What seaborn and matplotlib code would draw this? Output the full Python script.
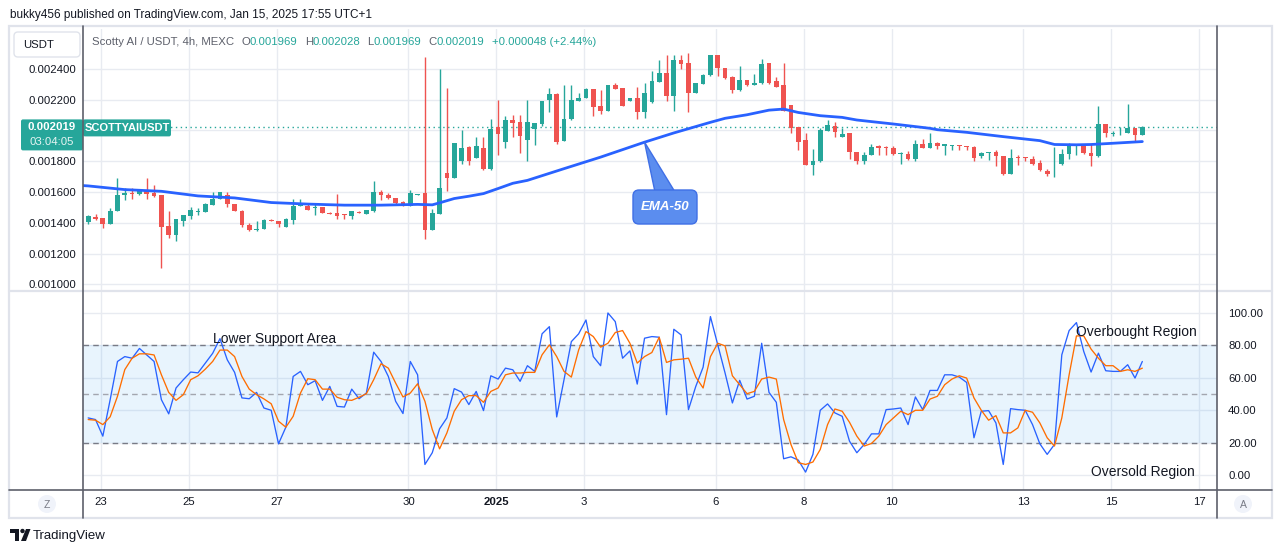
import numpy as np
import pandas as pd
import matplotlib
matplotlib.use("Agg")
import matplotlib.pyplot as plt
from matplotlib.patches import FancyBboxPatch, Rectangle, Circle, Polygon
from matplotlib.ticker import FormatStrFormatter, FuncFormatter
import seaborn as sns

# 4h candles, first one at 2024-12-22 17:00 (UTC+1); prices in 1e-6 USDT
start = pd.Timestamp("2024-12-22 17:00")

opens = [1407, 1439, 1428, 1392, 1476, 1579, 1596, 1585, 1607, 1596,
         1577, 1377, 1321, 1411, 1443, 1467, 1469, 1514, 1553, 1579,
         1519, 1478, 1383, 1351, 1359, 1418, 1411, 1372, 1418, 1510,
         1510, 1493, 1499, 1463, 1460, 1454, 1443, 1469, 1456, 1473,
         1600, 1579, 1561, 1536, 1508, 1579, 1596, 1353, 1456, 1725,
         1693, 1798, 1893, 1822, 1886, 1746, 2019, 1927, 2067, 2054,
         1940, 2009, 2043, 2198, 2234, 1933, 2073, 2191, 2211, 2267,
         2157, 2127, 2293, 2273, 2191, 2209, 2120, 2185, 2314, 2374,
         2224, 2454, 2434, 2243, 2301, 2357, 2490, 2402, 2344, 2262,
         2325, 2295, 2305, 2434, 2318, 2293, 2164, 2019, 1938, 1777,
         1798, 1998, 2028, 1959, 1983, 1860, 1798, 1841, 1897, 1893,
         1886, 1848, 1848, 1815, 1912, 1888, 1918, 1901, 1899, 1903,
         1897, 1893, 1830, 1854, 1858, 1834, 1718, 1826, 1826, 1815,
         1789, 1738, 1733, 1783, 1847, 1895, 1895, 1854, 1830, 2041,
         1979, 1987, 1985, 2015, 1969]
highs = [1450, 1454, 1430, 1493, 1693, 1628, 1626, 1622, 1693, 1643,
         1579, 1473, 1424, 1450, 1503, 1493, 1525, 1600, 1602, 1600,
         1521, 1480, 1396, 1413, 1426, 1422, 1413, 1428, 1557, 1557,
         1529, 1525, 1501, 1471, 1585, 1456, 1475, 1476, 1482, 1673,
         1615, 1596, 1563, 1538, 1615, 1585, 2473, 1486, 2396, 2273,
         1920, 2002, 1895, 1957, 1957, 2073, 2196, 2093, 2099, 2097,
         2196, 2050, 2191, 2273, 2243, 2293, 2293, 2241, 2273, 2269,
         2265, 2295, 2308, 2275, 2211, 2280, 2310, 2383, 2456, 2490,
         2490, 2490, 2499, 2308, 2368, 2492, 2492, 2404, 2353, 2417,
         2327, 2363, 2460, 2439, 2344, 2434, 2166, 2021, 1983, 1880,
         2013, 2067, 2052, 2017, 1985, 1862, 1858, 1912, 1905, 1897,
         1897, 1856, 1867, 1938, 1944, 1983, 1923, 1912, 1905, 1905,
         1899, 1897, 1858, 1860, 1873, 1836, 1880, 1837, 1828, 1832,
         1809, 1751, 1893, 1880, 1916, 1905, 1905, 1908, 2157, 2043,
         1994, 2022, 2170, 2017, 2028]
lows = [1392, 1418, 1364, 1390, 1474, 1546, 1557, 1583, 1553, 1568,
        1106, 1299, 1282, 1379, 1424, 1450, 1467, 1512, 1551, 1499,
        1474, 1375, 1346, 1346, 1357, 1409, 1372, 1370, 1392, 1506,
        1480, 1450, 1461, 1454, 1424, 1424, 1424, 1461, 1454, 1471,
        1546, 1557, 1514, 1506, 1506, 1577, 1295, 1351, 1454, 1604,
        1691, 1783, 1777, 1820, 1744, 1740, 1841, 1882, 1959, 1852,
        1804, 1905, 2030, 2120, 1910, 1931, 2069, 2189, 2209, 2095,
        2103, 2125, 2267, 2157, 2189, 2073, 2082, 2176, 2312, 2189,
        2127, 2396, 2120, 2241, 2299, 2355, 2353, 2336, 2241, 2254,
        2286, 2293, 2299, 2303, 2280, 2125, 1983, 1875, 1775, 1708,
        1796, 1996, 1957, 1957, 1811, 1779, 1779, 1837, 1841, 1837,
        1837, 1779, 1809, 1804, 1886, 1886, 1880, 1841, 1873, 1873,
        1875, 1798, 1822, 1809, 1766, 1708, 1716, 1772, 1798, 1777,
        1738, 1701, 1695, 1777, 1811, 1841, 1848, 1766, 1824, 1959,
        1966, 1972, 1983, 1931, 1969]
closes = [1443, 1422, 1392, 1478, 1583, 1596, 1585, 1611, 1589, 1572,
          1370, 1321, 1422, 1448, 1480, 1473, 1519, 1557, 1600, 1521,
          1476, 1385, 1353, 1357, 1415, 1411, 1394, 1422, 1506, 1525,
          1482, 1499, 1463, 1456, 1443, 1450, 1473, 1463, 1480, 1600,
          1579, 1559, 1525, 1508, 1596, 1583, 1353, 1460, 1628, 1693,
          1918, 1886, 1798, 1897, 1746, 2009, 1979, 2067, 2048, 1966,
          2054, 2048, 2189, 2234, 1927, 2073, 2196, 2213, 2267, 2153,
          2125, 2293, 2271, 2159, 2209, 2120, 2241, 2318, 2374, 2224,
          2454, 2430, 2243, 2305, 2359, 2490, 2404, 2338, 2262, 2325,
          2293, 2305, 2428, 2305, 2282, 2127, 2013, 1927, 1777, 1800,
          2002, 2034, 1992, 1974, 1856, 1804, 1841, 1893, 1886, 1888,
          1843, 1854, 1811, 1912, 1888, 1918, 1895, 1908, 1903, 1897,
          1893, 1817, 1852, 1858, 1830, 1718, 1822, 1820, 1820, 1779,
          1740, 1718, 1738, 1847, 1895, 1903, 1854, 1830, 2041, 1985,
          1983, 1992, 2015, 1972, 2019]

# EMA-50 (candle index, price 1e-6)
ema_idx = [-1, 0, 5, 10, 15, 20, 25, 28, 30, 35,
           40, 45, 47, 48, 50, 52, 54, 56, 58, 60,
           65, 70, 76, 80, 85, 87, 90, 93, 95, 97,
           100, 103, 105, 110, 115, 116, 120, 125, 130, 132,
           135, 137, 140, 144]
ema_val = [1642, 1639, 1615, 1604, 1574, 1561, 1531, 1525, 1521, 1514,
           1514, 1519, 1516, 1529, 1557, 1572, 1589, 1622, 1656, 1675,
           1751, 1826, 1923, 1983, 2052, 2078, 2101, 2131, 2138, 2116,
           2095, 2084, 2067, 2041, 2013, 2004, 1987, 1959, 1933, 1908,
           1906, 1908, 1916, 1927]

# stochastic %K (blue) and %D (orange), one value per candle
stoch_k = [35.3, 34.3, 24.1, 46.5, 70, 73, 72, 78, 74, 70,
           46.5, 37.8, 53.7, 58.8, 63.5, 63, 69, 75, 84, 71,
           63.3, 47.6, 47.1, 51, 41.4, 40, 19.4, 29.6, 60.8, 63.9,
           55.7, 58.2, 46.1, 54.7, 42.4, 42, 53, 47.1, 50.6, 75.7,
           70, 60.8, 45.5, 38, 70, 61.8, 6.7, 13.9, 28.6, 35.3,
           53.3, 51.2, 43.5, 51.6, 39.8, 61.2, 59.2, 65.9, 64.9, 57.8,
           67.4, 63.9, 87, 91.4, 35.9, 58.8, 82.2, 87, 95.5, 73,
           67.4, 99.8, 94.5, 72, 76.5, 56.1, 84.3, 85.3, 84.9, 37.3,
           89.8, 86.3, 40.4, 54.7, 66.5, 97.6, 80.2, 62.9, 44.5, 58.4,
           46.9, 48.6, 81.2, 51, 44.9, 10.2, 11.4, 9.4, 2, 12.9,
           40, 43.9, 38.4, 36.3, 21, 13.9, 19, 25.5, 25.5, 40.4,
           40.8, 41.4, 31.2, 48.2, 40.4, 52.2, 52.2, 61.8, 61.8, 60.4,
           57.1, 23.1, 39.4, 39.8, 32.2, 6.7, 41, 40.4, 40, 31.2,
           19.4, 12.9, 19, 74.1, 89, 93.9, 76.1, 63.5, 75.1, 64.3,
           63.9, 63.9, 68, 59.8, 70]
stoch_d = [34.3, 33.9, 31.2, 36, 48.6, 65, 72, 74.7, 74.7, 74,
           61.8, 51, 46.1, 49.6, 58.8, 61.2, 65.3, 70, 77, 77,
           73, 60.8, 53, 49.6, 47, 44, 33.3, 29.6, 36.3, 50.6,
           59.4, 58.8, 53, 53, 48, 46.5, 46.1, 48, 50.2, 58.8,
           68.6, 65.9, 56.7, 48.2, 50.6, 56.3, 45.5, 28.2, 16.3, 26.1,
           39.4, 46.5, 49, 49, 44.9, 51.6, 53.7, 61.8, 62.9, 62.9,
           63.3, 63.3, 74.1, 80.2, 73, 63.9, 60.4, 77.1, 88.4, 85.3,
           78.8, 81.2, 87.8, 89, 81.2, 69, 73, 75.5, 84.9, 69.4,
           71, 71.4, 72, 60.4, 53.7, 73, 81.2, 79.6, 61.2, 55.7,
           50.2, 51.6, 59.2, 60.4, 59.2, 34.3, 19, 7.8, 6.7, 8.2,
           15.9, 31.2, 40.8, 39.4, 32.6, 24.1, 18, 19.6, 24.1, 31.2,
           35.3, 39.4, 37.3, 40, 40, 46.9, 48.6, 55.7, 59.2, 61.2,
           59.8, 47.6, 40, 33.9, 36.7, 26.1, 26.1, 29.2, 40, 38.8,
           32.2, 23.1, 18, 35.3, 61.8, 85.7, 85.7, 77.6, 72, 67.4,
           67.4, 63.9, 64.9, 63.9, 65.9]

tick_days = ["2024-12-23", "2024-12-25", "2024-12-27", "2024-12-30", "2025-01-01", "2025-01-03",
             "2025-01-06", "2025-01-08", "2025-01-10", "2025-01-13", "2025-01-15", "2025-01-17"]
tick_labels = ["23", "25", "27", "30", "2025", "3", "6", "8", "10", "13", "15", "17"]
price_ticks = [0.0010, 0.0012, 0.0014, 0.0016, 0.0018, 0.0020, 0.0022, 0.0024]
osc_ticks = [0, 20, 40, 60, 80, 100]

GREEN = "#26a69a"
RED = "#ef5350"
GRID = "#e8ebf1"
DARK = "#5d606b"
TXT = "#131722"

sns.set_theme(style="white")
plt.rcParams["font.family"] = ["Liberation Sans", "DejaVu Sans"]

W, H = 1281, 553
fig = plt.figure(figsize=(W / 100, H / 100), dpi=100)


def box(x0, y0, x1, y1):
    return [x0 / W, 1 - y1 / H, (x1 - x0) / W, (y1 - y0) / H]


o = np.array(opens) / 1e6
h = np.array(highs) / 1e6
l = np.array(lows) / 1e6
c = np.array(closes) / 1e6
idx = np.arange(len(o))
tick_pos = np.asarray((pd.to_datetime(tick_days) - start) / pd.Timedelta(hours=4))
xlim = (-0.71, 154.2)


def price_fmt(v, pos):
    # the 0.002000 label sits under the last-price tag
    if abs(v - round(c[-1], 4)) < 1e-9:
        return ""
    return f"{v:.6f}"


# ---- price panel ----
ax1 = fig.add_axes(box(83, 29, 1217, 290))
ax1.set_xlim(*xlim)
ax1.set_ylim(0.000963, 0.002658)
ax1.set_xticks(tick_pos)
ax1.set_yticks(price_ticks)
ax1.grid(True, color=GRID, lw=1)
ax1.tick_params(axis="x", length=0, labelbottom=False)
ax1.tick_params(axis="y", length=0, pad=5, labelsize=8.2, labelcolor=TXT)
ax1.yaxis.set_major_formatter(FuncFormatter(price_fmt))
for s in ax1.spines.values():
    s.set_visible(False)

up = c >= o
colors = np.where(up, GREEN, RED)
ax1.vlines(idx, l, h, colors=colors, lw=1, zorder=3)
ax1.bar(idx, np.maximum(np.abs(c - o), 5e-6), bottom=np.minimum(o, c),
        width=0.64, color=colors, lw=0, zorder=4)
ax1.axhline(c[-1], color=GREEN, lw=1, ls=(0, (1, 2.5)), zorder=2)
sns.lineplot(x=ema_idx, y=np.array(ema_val) / 1e6, ax=ax1, color="#2962ff", lw=2.0, zorder=5)
ax1.set_xlabel("")
ax1.set_ylabel("")

# ---- stochastic panel ----
ax2 = fig.add_axes(box(83, 292, 1217, 490))
ax2.set_xlim(*xlim)
ax2.set_ylim(-9, 112.7)
ax2.set_xticks(tick_pos, tick_labels)
ax2.set_yticks(osc_ticks)
ax2.grid(True, color=GRID, lw=1)
ax2.yaxis.tick_right()
ax2.yaxis.set_major_formatter(FormatStrFormatter("%.2f"))
ax2.tick_params(axis="x", length=0, pad=5, labelsize=8.2, labelcolor=TXT)
ax2.tick_params(axis="y", length=0, pad=8, labelsize=8.2, labelcolor=TXT)
for s in ax2.spines.values():
    s.set_visible(False)
ax2.get_xticklabels()[tick_labels.index("2025")].set_fontweight("bold")

ax2.axhspan(20, 80, color="#2196f3", alpha=0.1, lw=0)
for lvl in (80, 20):
    ax2.axhline(lvl, color="#787b86", lw=1, ls=(0, (4, 3)))
ax2.axhline(50, color="#a3a6af", lw=1, ls=(0, (4, 3)))
sns.lineplot(x=idx, y=stoch_k, ax=ax2, color="#2962ff", lw=0.95)
sns.lineplot(x=idx, y=stoch_d, ax=ax2, color="#ff6d00", lw=0.95)
ax2.set_xlabel("")
ax2.set_ylabel("")

ax2.text(17.0, 83.6, "Lower Support Area", fontsize=10, color=TXT, va="center")
ax2.text(134.9, 87.9, "Overbought Region", fontsize=10, color=TXT, va="center")
ax2.text(137.0, 2.1, "Oversold Region", fontsize=10, color=TXT, va="center")

# ---- overlay: frame, labels, tags ----
ov = fig.add_axes([0, 0, 1, 1], zorder=10)
ov.set_xlim(0, W)
ov.set_ylim(H, 0)
ov.axis("off")

ov.add_patch(Rectangle((9, 26), 1263, 492, fill=False, ec="#e0e3eb", lw=1.6))
ov.plot([9, 1272], [291, 291], color="#e0e3eb", lw=1.6)
ov.plot([9, 1272], [490, 490], color=DARK, lw=1.2)
ov.plot([83, 83], [26, 518], color=DARK, lw=1.2)
ov.plot([1217, 1217], [26, 518], color=DARK, lw=1.2)

fig.canvas.draw()
renderer = fig.canvas.get_renderer()

ov.text(10, 15, "bukky456 published on TradingView.com, Jan 15, 2025 17:55 UTC+1",
        fontsize=8.5, color=TXT, va="center")

ov.add_patch(FancyBboxPatch((14, 32), 66, 25, boxstyle="round,pad=0,rounding_size=4",
                            fc="white", ec="#e0e3eb", lw=1))
ov.text(23, 45, "USDT", fontsize=8.2, color=TXT, va="center")

gray = "#5d606b"
runs = [("Scotty AI / USDT, 4h, MEXC", gray, 7), ("O", gray, 0), ("0.001969", GREEN, 7),
        ("H", gray, 0), ("0.002028", GREEN, 7), ("L", gray, 0), ("0.001969", GREEN, 7),
        ("C", gray, 0), ("0.002019", GREEN, 7), ("+0.000048 (+2.44%)", GREEN, 0)]
x = 92
for s, col, gap in runs:
    t = ov.text(x, 42, s, fontsize=8.2, color=col, va="center")
    x += t.get_window_extent(renderer).width + gap

# last price tag
y_px = H - ax1.transData.transform((0, c[-1]))[1]
ov.add_patch(FancyBboxPatch((21, y_px - 8), 62, 31, boxstyle="round,pad=0,rounding_size=2",
                            fc=GREEN, ec="none"))
ov.text(52, y_px, f"{c[-1]:.6f}", fontsize=8.2, color="white", weight="bold", ha="center", va="center")
ov.text(52, y_px + 15, "03:04:05", fontsize=8.2, color="#e6f5f3", ha="center", va="center")
ov.add_patch(FancyBboxPatch((83, y_px - 8), 88, 17, boxstyle="round,pad=0,rounding_size=2",
                            fc=GREEN, ec="none"))
ov.text(127, y_px + 0.5, "SCOTTYAIUSDT", fontsize=8, color="white", weight="bold", ha="center", va="center")

# EMA-50 callout
ax_pt = ax1.transData.transform((76, ema_val[ema_idx.index(76)] / 1e6))
apex = (ax_pt[0], H - ax_pt[1])
ov.add_patch(Polygon([apex, (655, 192), (675, 192)], closed=True, fc="#5b8def", ec="#3f6fe6", lw=1))
ov.add_patch(FancyBboxPatch((633, 190), 64, 34, boxstyle="round,pad=0,rounding_size=6",
                            fc="#5b8def", ec="#3f6fe6", lw=1))
ov.text(665, 207.5, "EMA-50", fontsize=9.5, color="white", style="italic", weight="bold",
        ha="center", va="center")

# time axis buttons
for cx, letter in ((47, "Z"), (1243, "A")):
    ov.add_patch(Circle((cx, 504), 9, fc="#f0f3fa", ec="none"))
    ov.text(cx, 504.5, letter, fontsize=7.5, color="#787b86", ha="center", va="center")

# TradingView logo
ov.add_patch(Rectangle((10, 529), 9, 3.5, fc=TXT, ec="none"))
ov.add_patch(Rectangle((14.5, 529), 4.5, 12, fc=TXT, ec="none"))
ov.add_patch(Circle((22.5, 531), 2.2, fc=TXT, ec="none"))
ov.add_patch(Polygon([(26, 529), (30.5, 529), (26, 541), (21, 541)], closed=True, fc=TXT, ec="none"))
ov.text(33, 535.5, "TradingView", fontsize=9.5, color=TXT, va="center")

fig.savefig("out.png", dpi=100)
